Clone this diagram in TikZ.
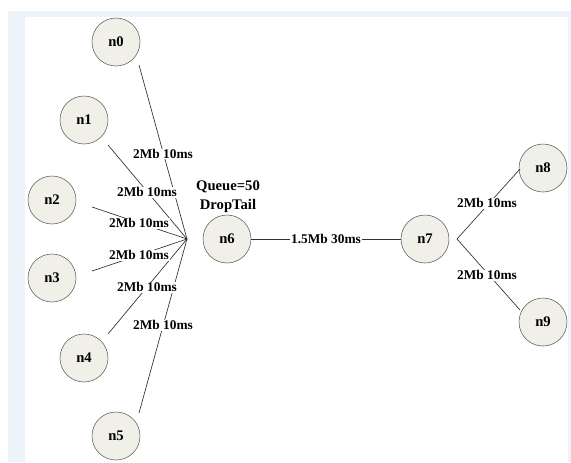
\documentclass[tikz,border=0pt]{standalone}
\usepackage{fontspec}
\setmainfont{Liberation Serif}
\definecolor{hostfill}{HTML}{F0F0E8}
\definecolor{framebg}{HTML}{EEF2FA}
\tikzset{
  host/.style={circle, draw=black!65, fill=hostfill, minimum size=36pt, inner sep=0pt,
    font=\bfseries\fontsize{11}{13}\selectfont},
  link/.style={draw=black!80, line width=0.5pt},
  lbl/.style={fill=white, inner sep=0.6pt, font=\bfseries\fontsize{10}{12}\selectfont},
}
\begin{document}
\begin{tikzpicture}[x=0.75pt,y=-0.75pt]
% Frame
\useasboundingbox (0,0) rectangle (571,462);
\fill[framebg] (8,11) rectangle (571,462);
\fill[white] (25,17) rectangle (568,462);

% Hosts
\node[host] (n0) at (116,42) {n0};
\node[host] (n1) at (84,120) {n1};
\node[host] (n2) at (52,200) {n2};
\node[host] (n3) at (52,278) {n3};
\node[host] (n4) at (84,358) {n4};
\node[host] (n5) at (116,436) {n5};
\node[host] (n6) at (227,239) {n6};
\node[host] (n7) at (425,239) {n7};
\node[host] (n8) at (543,168) {n8};
\node[host] (n9) at (543,322) {n9};

% Link ends
\coordinate (hub) at (187,239);
\coordinate (e0) at (139,65);
\coordinate (e1) at (108,145);
\coordinate (e2) at (92,207);
\coordinate (e3) at (92,271);
\coordinate (e4) at (108,334);
\coordinate (e5) at (139,413);
\coordinate (v7) at (457,239);
\coordinate (e8) at (520,169);
\coordinate (e9) at (520,310);

% Links
\foreach \i in {0,...,5}
  \draw[link] (e\i) -- (hub);
\draw[link] (n6) -- (n7) node[lbl, midway] (l67) {1.5Mb 30ms};
\draw[link] (e8) -- (v7) -- (e9);

% Labels
\node[lbl] (l0) at (163,154) {2Mb 10ms};
\node[lbl] (l1) at (147,192) {2Mb 10ms};
\node[lbl] (l2) at (139,223) {2Mb 10ms};
\node[lbl] (l3) at (139,255) {2Mb 10ms};
\node[lbl] (l4) at (147,287) {2Mb 10ms};
\node[lbl] (l5) at (163,325) {2Mb 10ms};
\node[lbl] (l8) at (487,203) {2Mb 10ms};
\node[lbl] (l9) at (487,275) {2Mb 10ms};
\node[align=center, font=\bfseries\fontsize{11}{14}\selectfont] (q6) at (228,197) {Queue=50\\DropTail};
\end{tikzpicture}
\end{document}
